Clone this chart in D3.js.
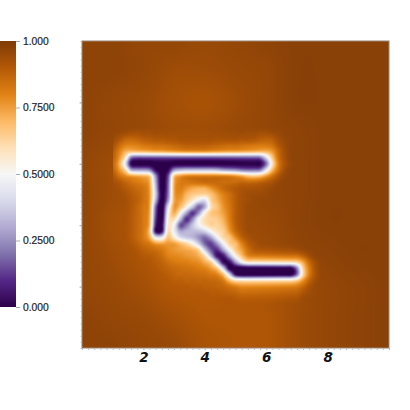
<!DOCTYPE html>
<html>
<head>
<meta charset="utf-8">
<script src="https://cdn.jsdelivr.net/npm/d3@7"></script>
<style>
html, body { margin: 0; padding: 0; background: #fff; }
svg { display: block; }
</style>
</head>
<body>
<svg id="chart" width="410" height="410"></svg>
<script>
// colour ramp, low to high
var rampColors = ["#2d004b","#542788","#8073ac","#b2abd2","#d8daeb","#f7f7f7","#fee0b6","#fdb863","#e08214","#b35806","#7f3b08"];
var barTicks = [1, 0.75, 0.5, 0.25, 0];
var barLabels = ["1.000", "0.7500", "0.5000", "0.2500", "0.000"];
var axisTicks = [2, 4, 6, 8];

// background field read every 1 unit, x 0..10, first row y=10, last row y=0 (hundredths)
var backgroundRows = [
	[97,97,96,96,95,96,97,98,98,98,98],
	[97,97,96,94,94,95,96,98,98,98,98],
	[97,96,95,93,92,94,96,98,98,98,98],
	[97,96,95,94,94,95,96,97,98,98,98],
	[96,94,93,94,94,95,96,97,98,98,98],
	[96,94,92,92,93,94,96,97,98,98,98],
	[96,93,91,90,92,94,95,97,98,98,98],
	[96,94,91,88,90,92,94,96,97,98,98],
	[96,95,93,90,90,91,92,94,96,97,98],
	[97,96,95,93,91,91,91,94,96,97,98],
	[97,97,96,95,92,91,91,94,96,97,98]
];

// drop below the background around the T and the tail, read every 0.2 units
// columns x 1.0..8.0, first row y=7.2, last row y=1.4 (hundredths)
var detailRows = [
	[0,0,0,0,0, 0,0,0,0,0,0,0,0,0,0, 0,0,0,0,0,0,0,0,0,0, 0,0,0,0,0,0,0,0,0,0,0],
	[0,1,2,3,3, 2,2,1,1,1,1,1,1,1,1, 1,1,1,1,1,1,1,2,2,3, 3,2,1,0,0,0,0,0,0,0,0],
	[1,4,8,9,8, 6,5,4,4,3,3,2,2,2,2, 2,2,3,3,3,3,4,4,5,7, 8,7,3,1,0,0,0,0,0,0,0],
	[3,9,14,15,14, 12,11,10,10,9,8,7,6,6,6, 6,7,8,9,10,10,11,12,13,14, 14,12,6,2,0,0,0,0,0,0,0],
	[5,13,22,26,25, 24,23,22,22,21,20,19,18,18,18, 18,19,20,21,22,22,23,24,25,26, 25,20,10,3,0,0,0,0,0,0,0],
	[6,16,34,72,78, 78,78,78,78,78,78,78,78,78,78, 78,78,78,78,78,78,78,78,78,76, 56,30,12,4,0,0,0,0,0,0,0],
	[8,20,48,90,95, 95,95,95,95,95,95,95,95,95,95, 95,95,95,95,95,95,95,95,95,95, 76,38,15,5,1,0,0,0,0,0,0],
	[6,16,30,62,66, 66,70,90,95,92,68,62,60,60,60, 60,60,62,66,68,70,74,76,76,74, 52,27,12,3,0,0,0,0,0,0,0],
	[3,9,14,18,20, 22,28,68,95,80,28,18,14,13,13, 13,13,13,14,15,18,22,28,30,28, 20,12,5,1,0,0,0,0,0,0,0],
	[1,3,6,9,11, 13,20,62,95,76,22,12,11,10,9, 8,8,8,9,9,9,8,9,9,8, 6,4,1,0,0,0,0,0,0,0,0],
	[0,1,3,5,7, 9,17,58,95,74,20,12,16,20,22, 22,17,12,8,6,4,3,3,3,3, 2,1,0,0,0,0,0,0,0,0,0],
	[0,0,1,3,5, 8,16,55,92,72,20,14,22,27,29, 30,26,19,13,9,5,2,1,1,1, 1,0,0,0,0,0,0,0,0,0,0],
	[0,0,0,2,4, 8,16,60,94,66,20,17,27,36,48, 52,30,22,15,10,5,2,1,0,0, 0,0,0,0,0,0,0,0,0,0,0],
	[0,0,0,2,5, 9,17,72,95,50,16,23,38,56,74, 62,34,26,17,11,5,2,0,0,0, 0,0,0,0,0,0,0,0,0,0,0],
	[0,0,0,2,5, 9,18,75,94,42,19,38,62,80,66, 40,27,24,19,12,5,2,0,0,0, 0,0,0,0,0,0,0,0,0,0,0],
	[0,0,0,2,5, 9,19,78,92,38,30,56,80,68,44, 32,29,28,22,13,5,2,0,0,0, 0,0,0,0,0,0,0,0,0,0,0],
	[0,0,0,2,5, 9,20,82,88,35,42,74,70,56,44, 35,29,30,25,15,6,2,0,0,0, 0,0,0,0,0,0,0,0,0,0,0],
	[0,0,0,2,5, 9,24,85,85,30,43,60,58,57,57, 53,42,33,29,18,8,3,0,0,0, 0,0,0,0,0,0,0,0,0,0,0],
	[0,0,0,2,5, 9,18,45,45,22,33,47,53,57,65, 72,63,45,31,26,15,6,2,0,0, 0,0,0,0,0,0,0,0,0,0,0],
	[0,0,0,1,3, 6,8,14,15,13,14,20,27,37,53, 72,78,65,45,29,24,13,5,2,0, 0,0,0,0,0,0,0,0,0,0,0],
	[0,0,0,0,1, 3,4,5,7,10,12,14,16,19,27, 53,74,80,63,43,27,18,9,4,3, 3,3,3,3,3,2,1,0,0,0,0],
	[0,0,0,0,0, 1,1,2,4,8,9,10,12,14,18, 30,57,85,85,63,40,25,14,12,12, 12,12,12,12,12,12,8,3,0,0,0],
	[0,0,0,0,0, 0,0,1,2,4,6,7,8,10,12, 18,27,55,87,87,65,45,35,35,35, 35,35,35,35,35,32,22,10,3,0,0],
	[0,0,0,0,0, 0,0,0,1,2,3,4,5,6,8, 10,15,25,53,90,93,94,93,93,93, 93,93,93,93,93,72,32,14,4,0,0],
	[0,0,0,0,0, 0,0,0,0,1,2,3,3,4,5, 6,8,11,23,53,87,95,95,95,95, 95,95,95,95,95,75,34,14,4,0,0],
	[0,0,0,0,0, 0,0,0,0,0,1,1,2,2,3, 3,4,5,9,22,32,34,35,35,35, 35,35,35,35,35,30,18,8,2,0,0],
	[0,0,0,0,0, 0,0,0,0,0,0,0,0,1,1, 2,2,3,4,7,10,13,13,13,13, 13,13,13,13,13,12,8,3,0,0,0],
	[0,0,0,0,0, 0,0,0,0,0,0,0,0,0,0, 0,1,1,2,3,4,6,6,6,6, 6,6,6,6,6,6,3,1,0,0,0],
	[0,0,0,0,0, 0,0,0,0,0,0,0,0,0,0, 0,0,0,0,0,1,2,2,2,2, 2,2,2,2,2,2,0,0,0,0,0],
	[0,0,0,0,0, 0,0,0,0,0,0,0,0,0,0, 0,0,0,0,0,0,0,0,0,0, 0,0,0,0,0,0,0,0,0,0,0]
];

var plotLeft = 82, plotRight = 389, plotTop = 41, plotBottom = 348;
var barLeft = 0, barRight = 16, barTop = 41, barBottom = 307;

var svg = d3.select("#chart");

var x = d3.scaleLinear().domain([0, 10]).range([plotLeft, plotRight]);
var y = d3.scaleLinear().domain([0, 10]).range([plotBottom, plotTop]);
var barY = d3.scaleLinear().domain([0, 1]).range([barBottom, barTop]);
var color = d3.scaleLinear()
	.domain(d3.range(rampColors.length).map(function(i) { return i / (rampColors.length - 1); }))
	.range(rampColors)
	.clamp(true);

// data units to grid indexes
var backCol = d3.scaleLinear().domain([0, 10]).range([0, backgroundRows[0].length - 1]);
var backRow = d3.scaleLinear().domain([10, 0]).range([0, backgroundRows.length - 1]);
var detailCol = d3.scaleLinear().domain([1, 8]).range([0, detailRows[0].length - 1]);
var detailRow = d3.scaleLinear().domain([7.2, 1.4]).range([0, detailRows.length - 1]);

function catmull(a, b, c, d, t) {
	return 0.5 * (2 * b + (c - a) * t + (2 * a - 5 * b + 4 * c - d) * t * t + (3 * b - a - 3 * c + d) * t * t * t);
}

// smooth lookup in a typed grid, the way the renderer shades between mesh nodes
function sample(rows, gx, gy) {
	var nr = rows.length, nc = rows[0].length;
	gx = Math.max(0, Math.min(nc - 1, gx));
	gy = Math.max(0, Math.min(nr - 1, gy));
	var ci = Math.min(Math.floor(gx), nc - 2), ri = Math.min(Math.floor(gy), nr - 2);
	var tx = gx - ci, ty = gy - ri;
	var out = [];
	for (var j = -1; j < 3; j++) {
		var row = rows[Math.max(0, Math.min(nr - 1, ri + j))];
		out.push(catmull(
			row[Math.max(0, ci - 1)], row[ci], row[ci + 1], row[Math.min(nc - 1, ci + 2)], tx));
	}
	return catmull(out[0], out[1], out[2], out[3], ty);
}

function fieldValue(ux, uy) {
	var back = sample(backgroundRows, backCol(ux), backRow(uy));
	var drop = 0;
	if (ux >= 1 && ux <= 8 && uy <= 7.2 && uy >= 1.4) {
		drop = Math.max(0, sample(detailRows, detailCol(ux), detailRow(uy)));
	}
	return (back - drop) / 100;
}

// heat map
var w = plotRight - plotLeft, h = plotBottom - plotTop;
var canvas = document.createElement("canvas");
canvas.width = w;
canvas.height = h;
var ctx = canvas.getContext("2d");
var img = ctx.createImageData(w, h);
for (var py = 0; py < h; py++) {
	for (var px = 0; px < w; px++) {
		var c = d3.rgb(color(fieldValue(x.invert(plotLeft + px + 0.5), y.invert(plotTop + py + 0.5))));
		var k = (py * w + px) * 4;
		img.data[k] = c.r;
		img.data[k + 1] = c.g;
		img.data[k + 2] = c.b;
		img.data[k + 3] = 255;
	}
}
ctx.putImageData(img, 0, 0);

svg.append("image")
	.attr("x", plotLeft)
	.attr("y", plotTop)
	.attr("width", w)
	.attr("height", h)
	.attr("href", canvas.toDataURL());

svg.append("rect")
	.attr("x", plotLeft)
	.attr("y", plotTop)
	.attr("width", w)
	.attr("height", h)
	.attr("fill", "none")
	.attr("stroke", "#9a8474")
	.attr("stroke-width", 1);

// small ticks all round, labels only under the plot
var minorTicks = d3.range(0, 10.01, 0.2);

svg.append("g")
	.attr("transform", "translate(0," + plotBottom + ")")
	.call(d3.axisBottom(x).tickValues(minorTicks).tickSize(2).tickFormat(""))
	.call(function(g) { g.select(".domain").remove(); })
	.selectAll("line").attr("stroke", "#bbb");

svg.append("g")
	.attr("transform", "translate(" + plotLeft + ",0)")
	.call(d3.axisLeft(y).tickValues(minorTicks).tickSize(1.5).tickFormat(""))
	.call(function(g) { g.select(".domain").remove(); })
	.selectAll("line").attr("stroke", "#bbb");

svg.append("g")
	.attr("transform", "translate(" + plotLeft + ",0)")
	.call(d3.axisLeft(y).tickValues(axisTicks).tickSize(2.5).tickFormat(""))
	.call(function(g) { g.select(".domain").remove(); })
	.selectAll("line").attr("stroke", "#aaa");

var bottomAxis = svg.append("g")
	.attr("transform", "translate(0," + plotBottom + ")")
	.call(d3.axisBottom(x).tickValues(axisTicks).tickSize(2).tickFormat(d3.format("d")));
bottomAxis.select(".domain").remove();
bottomAxis.selectAll("line").attr("stroke", "#bbb");
bottomAxis.selectAll("text")
	.attr("y", 4)
	.attr("font-family", "'DejaVu Sans', sans-serif")
	.attr("font-size", 13.5)
	.attr("font-weight", "bold")
	.attr("font-style", "italic")
	.attr("fill", "#111");

// colour bar
var grad = svg.append("defs").append("linearGradient")
	.attr("id", "rampGrad")
	.attr("x1", 0).attr("y1", 1)
	.attr("x2", 0).attr("y2", 0);

grad.selectAll("stop")
	.data(rampColors)
	.enter()
	.append("stop")
	.attr("offset", function(d, i) { return i / (rampColors.length - 1); })
	.attr("stop-color", function(d) { return d; });

svg.append("rect")
	.attr("x", barLeft)
	.attr("y", barTop)
	.attr("width", barRight - barLeft)
	.attr("height", barBottom - barTop)
	.attr("fill", "url(#rampGrad)");

var barAxis = svg.append("g")
	.attr("transform", "translate(" + barRight + ",0)")
	.call(d3.axisRight(barY)
		.tickValues(barTicks)
		.tickSize(4)
		.tickPadding(3)
		.tickFormat(function(d, i) { return barLabels[i]; }));
barAxis.select(".domain").remove();
barAxis.selectAll("line").attr("stroke", "#aaa");
barAxis.selectAll("text")
	.attr("font-family", "'Liberation Sans', sans-serif")
	.attr("font-size", 10.3)
	.attr("fill", "#222")
	.attr("stroke", "#222")
	.attr("stroke-width", 0.2);
</script>
</body>
</html>
